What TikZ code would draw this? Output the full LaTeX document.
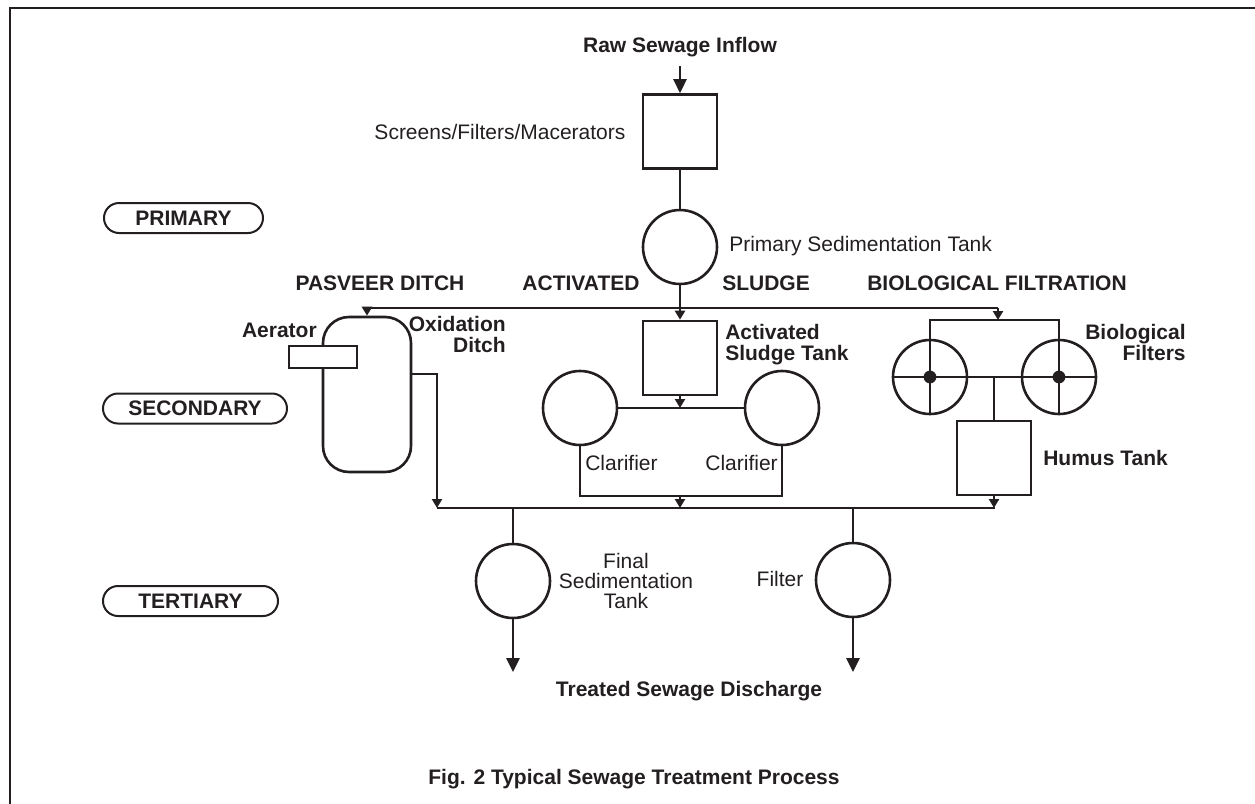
\documentclass[tikz,border=0pt]{standalone}
\usepackage{fontspec}
\setmainfont{Liberation Sans}
\usepackage{xcolor}
\definecolor{ink}{HTML}{231F20}
\usetikzlibrary{arrows.meta, positioning}

\begin{document}
\begin{tikzpicture}[x=0.5pt, y=-0.5pt, line width=1.3pt, color=ink,
    txt/.style={font=\fontsize{10.5}{10}\selectfont, inner sep=0pt},
    btxt/.style={font=\bfseries\fontsize{10.5}{10.5}\selectfont, inner sep=0pt},
    tank/.style={draw, rectangle, minimum size=37pt, inner sep=0pt},
    basin/.style={draw, circle, minimum size=37pt, inner sep=0pt},
    stage/.style={draw, line width=1pt, rounded corners=7.5pt, minimum height=15pt,
                  inner sep=0pt, font=\bfseries\fontsize{10.5}{10.5}\selectfont},
    flow/.style={-{Triangle[length=4.5pt, width=5pt]}},
    outflow/.style={-{Triangle[length=7pt, width=6.5pt]}}]
    \useasboundingbox (0,0) rectangle (1255,804);
    % frame (top and left edges only)
    \draw[line width=1pt] (10,804) -- (10,8) -- (1255,8);
    % stage tags
    \node[stage, minimum width=79.5pt] (primary)   at (183.5,218) {PRIMARY};
    \node[stage, minimum width=92pt]   (secondary) at (195,408.5) {SECONDARY};
    \node[stage, minimum width=87.5pt] (tertiary)  at (190.5,601) {TERTIARY};
    % primary treatment
    \node[btxt] (inflow) at (680,47) {Raw Sewage Inflow};
    \node[tank] (screens) at (680,131.5) {};
    \node[txt, left=7.5pt of screens] (screenslbl) {Screens/Filters/Macerators};
    \node[basin] (primsed) at (680,247) {};
    \node[txt, anchor=west] (primsedlbl) at (728,246) {Primary Sedimentation Tank};
    \draw[outflow] ([yshift=-4pt]inflow.south) -- (screens.north);
    \draw (screens) -- (primsed);
    % secondary: headings
    \node[btxt] (pasveer)   at (380,283) {PASVEER DITCH};
    \node[btxt] (activated) at (581,283) {ACTIVATED};
    \node[btxt] (sludge)    at (766,283) {SLUDGE};
    \node[btxt] (biofilt)   at (997,283) {BIOLOGICAL FILTRATION};
    % upper header
    \coordinate (topw) at (367,308);
    \coordinate (tope) at (998,308);
    \draw (topw) -- (tope);
    % Pasveer ditch
    \node[draw, rounded corners=13pt, minimum width=44pt, minimum height=77.5pt] (ditch) at (367,394.5) {};
    \node[draw, fill=white, minimum width=34pt, minimum height=11pt, inner sep=0pt] (aerator) at (323,357) {};
    \node[btxt, anchor=east] (aeratorlbl) at (318,330) {Aerator};
    \node[btxt, align=right, anchor=east] (ditchlbl) at (507,334) {Oxidation\\Ditch};
    \draw[flow] (topw) -- (ditch.north);
    \coordinate (ditchout) at (411,374);
    \coordinate (botw) at (437,508);
    \coordinate (bote) at (995,508);
    \draw[flow] (ditchout) -| (botw);
    \draw (botw) -- (bote);
    % activated sludge
    \node[tank] (astank) at (680,358) {};
    \node[btxt, align=left, anchor=west] (astanklbl) at (724,345) {Activated\\Sludge Tank};
    \draw[flow] (primsed) -- (astank);
    \node[basin] (clar1) at (580,408) {};
    \node[basin] (clar2) at (782,408) {};
    \draw (clar1) -- (clar2);
    \draw[flow] (astank.south) -- (astank.south |- clar1);
    \coordinate (clar1out) at (580,496);
    \coordinate (clar2out) at (782,496);
    \draw (clar1.south) -- (clar1out) -- (clar2out) -- (clar2.south);
    \draw[flow] (astank |- clar1out) -- (astank |- botw);
    \node[txt, anchor=west] (clar1lbl) at (584,463) {Clarifier};
    \node[txt, anchor=east] (clar2lbl) at (779,463) {Clarifier};
    % biological filtration
    \node[basin] (bf1) at (930,377) {};
    \node[basin] (bf2) at (1059,377) {};
    \coordinate (bfin1) at (930,320);
    \coordinate (bfin2) at (1059,320);
    \draw (bf1.south) -- (bfin1) -- (bfin2) -- (bf2.south);
    \draw (bf1.west) -- (bf2.east);
    \fill (bf1.center) circle[radius=3.2pt];
    \fill (bf2.center) circle[radius=3.2pt];
    \draw[flow] (tope) -- (tope |- bfin1);
    \node[tank] (humus) at (994,458) {};
    \draw (humus.north) -- (humus.north |- bf1);
    \draw[flow] (humus.south) -- (humus.south |- botw);
    \node[btxt, anchor=west] (humuslbl) at (1042,458) {Humus Tank};
    \node[btxt, align=right, anchor=west] (bflbl) at (1084,342) {Biological\\Filters};
    % tertiary treatment
    \node[basin] (finalsed) at (513,581) {};
    \node[basin] (filter) at (853,580) {};
    \draw (finalsed |- botw) -- (finalsed);
    \draw (filter |- botw) -- (filter);
    \coordinate (out1) at (513,672);
    \coordinate (out2) at (853,672);
    \draw[outflow] (finalsed) -- (out1);
    \draw[outflow] (filter) -- (out2);
    \node[txt, align=center] (finalsedlbl) at (626,581) {Final\\Sedimentation\\Tank};
    \node[txt] (filterlbl) at (780,579) {Filter};
    \node[btxt] (discharge) at (689,691) {Treated Sewage Discharge};
    \node[btxt] (caption) at (634,779) {Fig. 2 Typical Sewage Treatment Process};
\end{tikzpicture}
\end{document}
